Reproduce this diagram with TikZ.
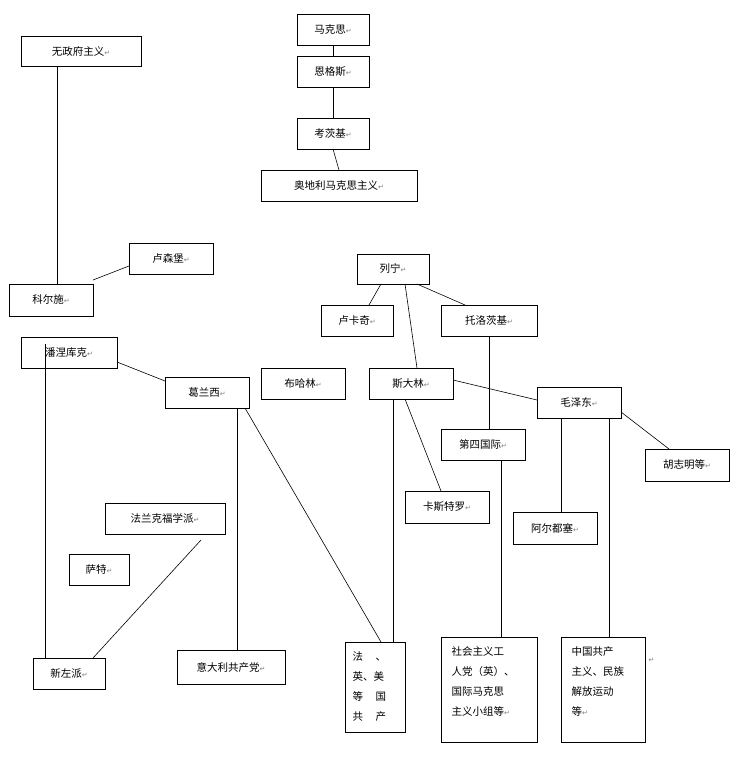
\documentclass[tikz,border=0pt]{standalone}
\usepackage{fontspec}
\setmainfont{Noto Sans CJK SC}
\newfontfamily\dejavu{DejaVu Sans}
\newcommand{\ret}{{\dejavu\fontsize{7}{8}\selectfont\color{gray}↵}}
\begin{document}
\begin{tikzpicture}[x=1pt,y=-1pt,
  bx/.style={draw,line width=0.8pt},
  lbl/.style={font=\fontsize{10.5}{17}\selectfont,anchor=center,align=left},
  ln/.style={line width=0.6pt}]
\useasboundingbox (0,0) rectangle (745,784);
\newcommand{\B}[6]{%
  \draw[bx] (#2,#3) rectangle (#4,#5);
  \coordinate (#1) at ({(#2+#4)/2},{(#3+#5)/2});
  \node[lbl] (#1t) at (#1) {#6};}
\B{mks}{297}{14}{369}{45}{马克思\ret}
\B{egs}{297}{56}{369}{87}{恩格斯\ret}
\B{kcj}{297}{118}{369}{149}{考茨基\ret}
\B{adl}{261}{170}{417}{201}{奥地利马克思主义\ret}
\B{wzf}{21}{36}{141}{66}{无政府主义\ret}
\B{lsb}{129}{243}{213}{274}{卢森堡\ret}
\B{kes}{9}{284}{93}{316}{科尔施\ret}
\B{lien}{357}{254}{429}{284}{列宁\ret}
\B{lkq}{321}{305}{393}{336}{卢卡奇\ret}
\B{tlcj}{441}{305}{537}{336}{托洛茨基\ret}
\B{pnkk}{21}{337}{117}{368}{潘涅库克\ret}
\B{glx}{165}{377}{249}{408}{葛兰西\ret}
\B{bhl}{261}{368}{345}{399}{布哈林\ret}
\B{sdl}{369}{368}{453}{399}{斯大林\ret}
\B{mzd}{537}{387}{621}{418}{毛泽东\ret}
\B{dsgj}{441}{429}{525}{460}{第四国际\ret}
\B{hzm}{645}{449}{729}{481}{胡志明等\ret}
\B{kstl}{405}{491}{489}{523}{卡斯特罗\ret}
\B{aeds}{513}{512}{597}{544}{阿尔都塞\ret}
\B{flkf}{105}{503}{225}{534}{法兰克福学派\ret}
\B{st}{69}{554}{129}{585}{萨特\ret}
\B{xzp}{33}{658}{105}{689}{新左派\ret}
\B{ydl}{177}{650}{285}{684}{意大利共产党\ret}
\draw[bx] (345,642) rectangle (405,732); \coordinate (fym) at (375,642);
\node[lbl,anchor=north west,font=\fontsize{10.5}{20}\selectfont] (fymt) at (349,648) {法\hspace{1.2em}、\\英、美\\等\hspace{1.2em}国\\共\hspace{1.2em}产};
\draw[bx] (441,637) rectangle (537,742); \coordinate (shzy) at (489,637);
\node[lbl,anchor=north west,font=\fontsize{10.5}{20}\selectfont] (shzyt) at (448,643) {社会主义工\\人党（英）、\\国际马克思\\主义小组等\ret};
\draw[bx] (561,637) rectangle (645,742); \coordinate (zggc) at (603,637);
\node[lbl,anchor=north west,font=\fontsize{10.5}{20}\selectfont] (zggct) at (568,643) {中国共产\\主义、民族\\解放运动\\等\ret};
\node[anchor=west] (r1) at (645,660) {\ret};
% connectors
\draw[ln] (mks |- 0,45) -- (egs |- 0,56);
\draw[ln] (egs |- 0,87) -- (kcj |- 0,118);
\draw[ln] (kcj |- 0,149) -- (adl |- 0,170);
\draw[ln] (57,66) coordinate (a1) -- (57,284) coordinate (a2);
\draw[ln] (129,266) coordinate (b1) -- (93,280) coordinate (b2);
\draw[ln] (381,284) coordinate (c1) -- (369,305) coordinate (c2);
\draw[ln] (417,284) coordinate (d1) -- (465,305) coordinate (d2);
\draw[ln] (405,284) coordinate (e1) -- (417,368) coordinate (e2);
\draw[ln] (489,336) coordinate (f1) -- (489,429) coordinate (f2);
\draw[ln] (117,362) coordinate (g1) -- (165,381) coordinate (g2);
\draw[ln] (45,344) coordinate (h1) -- (45,658) coordinate (h2);
\draw[ln] (237,408) coordinate (i1) -- (237,650) coordinate (i2);
\draw[ln] (245,408) coordinate (j1) -- (381,642) coordinate (j2);
\draw[ln] (393,399) coordinate (k1) -- (393,642) coordinate (k2);
\draw[ln] (405,399) coordinate (l1) -- (441,491) coordinate (l2);
\draw[ln] (453,380) coordinate (m1) -- (537,400) coordinate (m2);
\draw[ln] (501,460) coordinate (n1) -- (501,637) coordinate (n2);
\draw[ln] (561,418) coordinate (o1) -- (561,512) coordinate (o2);
\draw[ln] (609,418) coordinate (p1) -- (609,637) coordinate (p2);
\draw[ln] (621,412) coordinate (q1) -- (669,449) coordinate (q2);
\draw[ln] (201,540) coordinate (s1) -- (93,658) coordinate (s2);
\end{tikzpicture}
\end{document}
